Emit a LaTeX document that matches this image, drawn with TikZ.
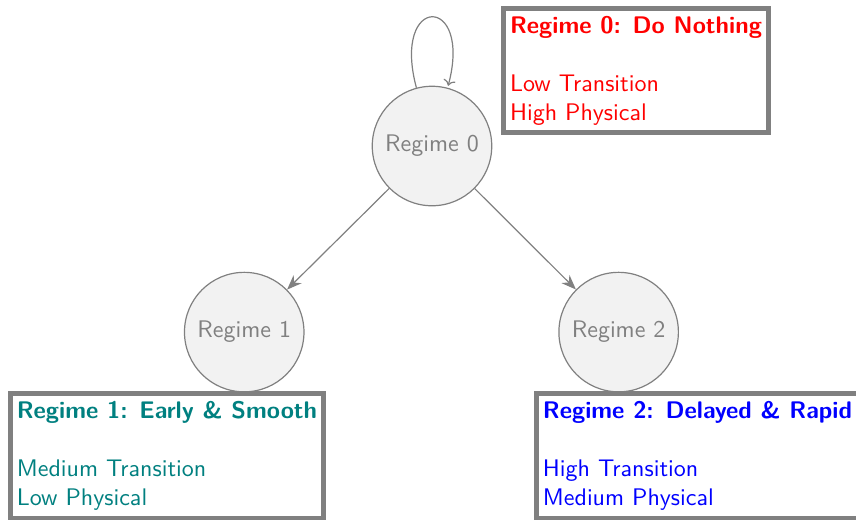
\documentclass[tikz,border=0pt]{standalone}
\usepackage{fontspec}
\setsansfont{lmsans10-regular.otf}[BoldFont=lmsans10-bold.otf]
\usepackage{tikz}
\usetikzlibrary{arrows.meta,positioning}
\definecolor{regimegray}{HTML}{808080}
\definecolor{regimeteal}{HTML}{008080}

\begin{document}
\begin{tikzpicture}[
      regime/.style={circle, draw=regimegray, semithick, fill=regimegray!10,
                     minimum size=2.1cm, inner sep=0pt, text=regimegray,
                     font=\sffamily\fontsize{12}{14.5}\selectfont},
      info/.style={draw=regimegray, line width=2.5pt, fill=white, align=left,
                   inner xsep=3.3pt, inner ysep=3.8pt,
                   font=\sffamily\fontsize{12}{14.5}\selectfont},
      arr/.style={-{Stealth[length=2.6mm, width=2mm]}, semithick, regimegray}
    ]
      \useasboundingbox (-7.592, 2.566) rectangle (7.451, -6.572);

      % States
      \node[regime] (regime0) at (0, 0) {Regime 0};
      \node[regime] (regime1) at (-3.3, -3.27) {Regime 1};
      \node[regime] (regime2) at (3.28, -3.27) {Regime 2};

      % Transitions
      \draw[arr] (regime0) edge[loop above] (regime0);
      \draw[arr] (regime0) -- (regime1);
      \draw[arr] (regime0) -- (regime2);

      % Descriptions
      \node[info, text=red] (box0) at (3.585, 1.327)
        {\textbf{Regime 0: Do Nothing}\\[\baselineskip]Low Transition\\High Physical};
      \node[info, text=regimeteal] (box1) at (-4.657, -5.448)
        {\textbf{Regime 1: Early \& Smooth}\\[\baselineskip]Medium Transition\\Low Physical};
      \node[info, text=blue] (box2) at (4.665, -5.448)
        {\textbf{Regime 2: Delayed \& Rapid}\\[\baselineskip]High Transition\\Medium Physical};
    \end{tikzpicture}
\end{document}
